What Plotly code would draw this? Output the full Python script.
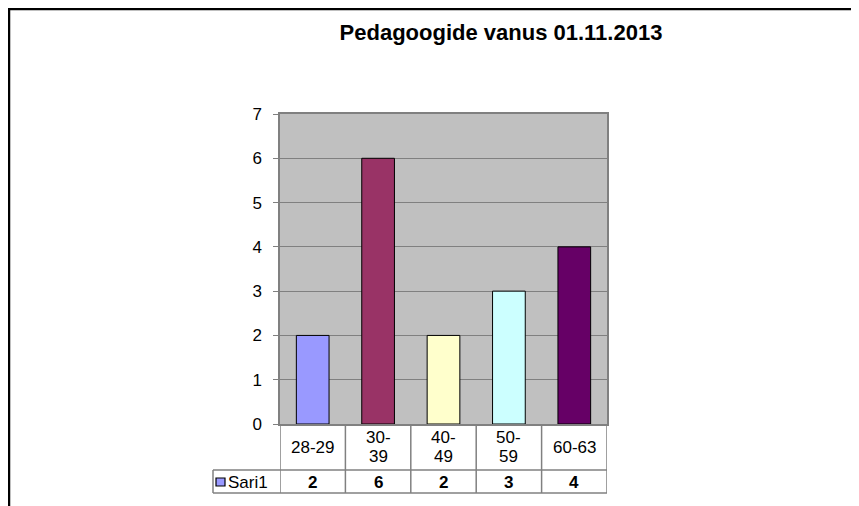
import plotly.graph_objects as go

categories = ["28-29", "30-39", "40-49", "50-59", "60-63"]
values = [2, 6, 2, 3, 4]
series_name = "Sari1"
bar_colors = ["#9999FF", "#993366", "#FFFFCC", "#CCFFFF", "#660066"]
title_text = "Pedagoogide vanus 01.11.2013"
wrapped = [False, True, True, True, False]

OFF = 8  # page body margin
W, H = 859 - OFF, 506 - OFF
# plot area in screen pixels: x 280-607, y 114-424
L, T = 280 - OFF, 114 - OFF
R, B = W - (607 - OFF), H - (424 - OFF)
pw = W - L - R
ph = H - T - B

def py(sy):
    return (H - B - (sy - OFF)) / ph

def px(sx):
    return ((sx - OFF) - L) / pw

FONT = "Liberation Sans, Arial, sans-serif"
TFS = 17

fig = go.Figure()
fig.add_trace(go.Bar(
    x=categories, y=values, name=series_name,
    marker=dict(color=bar_colors, line=dict(color="black", width=1)),
    showlegend=False, hoverinfo="x+y",
))

row1_bottom = py(470)
row2_bottom = py(493)
legend_left = px(213)
GRAY = "#808080"

shapes = []
for i in range(len(categories) + 1):
    shapes.append(dict(type="line", xref="x", yref="paper",
                       x0=i - 0.5, x1=i - 0.5, y0=0, y1=row2_bottom,
                       line=dict(color=GRAY, width=1.5)))
for yy in (row1_bottom, row2_bottom):
    shapes.append(dict(type="line", xref="paper", yref="paper",
                       x0=legend_left, x1=1, y0=yy, y1=yy,
                       line=dict(color=GRAY, width=1.5)))
shapes.append(dict(type="line", xref="paper", yref="paper",
                   x0=legend_left, x1=legend_left, y0=row1_bottom, y1=row2_bottom,
                   line=dict(color=GRAY, width=1.5)))
shapes.append(dict(type="rect", xref="paper", yref="paper",
                   x0=px(216), x1=px(225), y0=py(486), y1=py(478),
                   fillcolor=bar_colors[0], line=dict(color="black", width=1.2)))
# outer frame (top and left)
shapes.append(dict(type="line", xref="paper", yref="paper",
                   x0=px(8), x1=px(858), y0=py(9), y1=py(9),
                   line=dict(color="black", width=2.5)))
shapes.append(dict(type="line", xref="paper", yref="paper",
                   x0=px(9), x1=px(9), y0=py(8), y1=py(506),
                   line=dict(color="black", width=2.5)))

annotations = []
for cat, wr, val in zip(categories, wrapped, values):
    if wr:
        a, b = cat.split("-")
        lines = [(a + "-", 437), (b, 456.5)]
    else:
        lines = [(cat, 447.5)]
    for txt, yy in lines:
        annotations.append(dict(x=cat, xref="x", yref="paper", y=py(yy),
                                text=txt, showarrow=False,
                                font=dict(family=FONT, size=TFS, color="black"),
                                xanchor="center", yanchor="middle"))
    annotations.append(dict(x=cat, xref="x", yref="paper", y=py(482),
                            text="<b>%d</b>" % val, showarrow=False,
                            font=dict(family=FONT, size=TFS, color="black"),
                            xanchor="center", yanchor="middle"))
annotations.append(dict(x=px(226), xref="paper", yref="paper", y=py(482),
                        text=series_name, showarrow=False,
                        font=dict(family=FONT, size=TFS, color="black"),
                        xanchor="left", yanchor="middle"))

fig.update_layout(
    width=W, height=H,
    margin=dict(l=L, r=R, t=T, b=B, autoexpand=False),
    paper_bgcolor="white",
    plot_bgcolor="#C0C0C0",
    bargap=0.5,
    title=dict(text="<b>%s</b>" % title_text, x=(501 - OFF) / W, xanchor="center",
               y=1 - (32 - OFF) / H, yanchor="middle",
               font=dict(family=FONT, size=22, color="black")),
    xaxis=dict(range=[-0.5, 4.5], showticklabels=False, showgrid=False,
               showline=True, linecolor=GRAY, linewidth=1.5, mirror=True,
               ticks="", fixedrange=True),
    yaxis=dict(range=[0, 7], dtick=1, tick0=0, showgrid=True,
               gridcolor=GRAY, gridwidth=1,
               showline=True, linecolor=GRAY, linewidth=1.5, mirror=True,
               ticks="outside", ticklen=5, tickcolor=GRAY,
               ticklabelstandoff=8,
               tickfont=dict(family=FONT, size=17, color="black"),
               zeroline=False, fixedrange=True),
    shapes=shapes,
    annotations=annotations,
)

fig.write_html("out.html")
